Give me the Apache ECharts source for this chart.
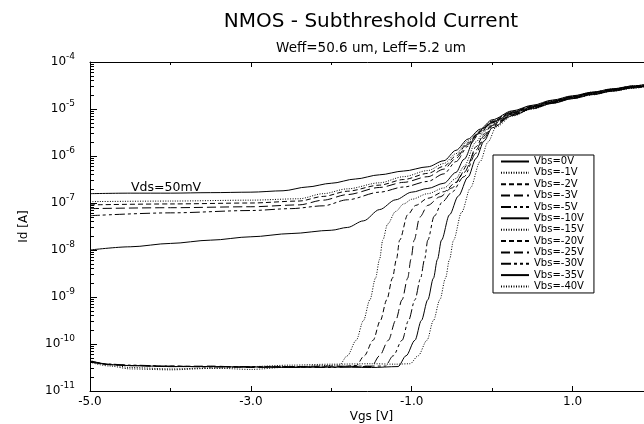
<!DOCTYPE html>
<html>
<head>
<meta charset="utf-8">
<script src="https://cdn.jsdelivr.net/npm/echarts@6/dist/echarts.min.js"></script>
<style>html,body{margin:0;padding:0;background:#fff}#c{width:644px;height:424px}</style>
</head>
<body>
<div id="c"></div>
<script>
// ---- data (Vgs [V], Id [A]) ----
const seriesNames = ['Vbs=0V','Vbs=-1V','Vbs=-2V','Vbs=-3V','Vbs=-5V','Vbs=-10V','Vbs=-15V','Vbs=-20V','Vbs=-25V','Vbs=-30V','Vbs=-35V','Vbs=-40V'];

const vbs0 = [[-5,1.58e-7],[-4.5,1.62e-7],[-4,1.62e-7],[-3.5,1.66e-7],[-3,1.70e-7],[-2.6,1.82e-7],[-2.3,2.19e-7],[-2,2.63e-7],[-1.7,3.24e-7],[-1.4,3.98e-7],[-1.1,4.79e-7],[-0.8,5.89e-7],[-0.6,7.94e-7],[-0.45,1.32e-6],[-0.3,2.29e-6],[-0.15,3.72e-6],[0,5.89e-6],[0.25,9.12e-6],[0.5,1.20e-5],[0.75,1.55e-5],[1,1.91e-5],[1.25,2.29e-5],[1.5,2.69e-5],[1.75,3.09e-5],[2,3.55e-5]];
const vbs1 = [[-5,1.07e-7],[-4,1.10e-7],[-3,1.15e-7],[-2.4,1.23e-7],[-2.1,1.58e-7],[-1.8,2.00e-7],[-1.4,2.69e-7],[-1.1,3.63e-7],[-0.8,4.90e-7],[-0.6,6.92e-7],[-0.45,1.12e-6],[-0.3,2.09e-6],[-0.15,3.47e-6],[0,5.62e-6],[0.25,8.91e-6],[0.5,1.17e-5],[0.75,1.51e-5],[1,1.86e-5],[1.25,2.29e-5],[1.5,2.69e-5],[1.75,3.09e-5],[2,3.55e-5]];
const vbs2 = [[-5,9.12e-8],[-4,9.55e-8],[-3,1.00e-7],[-2.4,1.10e-7],[-2.1,1.38e-7],[-1.8,1.78e-7],[-1.4,2.40e-7],[-1.1,3.16e-7],[-0.8,4.27e-7],[-0.6,6.03e-7],[-0.45,1.00e-6],[-0.3,1.91e-6],[-0.15,3.31e-6],[0,5.50e-6],[0.25,8.71e-6],[0.5,1.15e-5],[0.75,1.48e-5],[1,1.86e-5],[1.25,2.24e-5],[1.5,2.63e-5],[1.75,3.09e-5],[2,3.47e-5]];
const vbs3 = [[-5,7.59e-8],[-4,7.94e-8],[-3,8.32e-8],[-2.4,9.12e-8],[-2.1,1.15e-7],[-1.8,1.51e-7],[-1.4,2.14e-7],[-1.1,2.75e-7],[-0.8,3.63e-7],[-0.6,5.25e-7],[-0.45,8.91e-7],[-0.3,1.78e-6],[-0.15,3.16e-6],[0,5.37e-6],[0.25,8.51e-6],[0.5,1.15e-5],[0.75,1.48e-5],[1,1.82e-5],[1.25,2.24e-5],[1.5,2.63e-5],[1.75,3.02e-5],[2,3.47e-5]];
const vbs5 = [[-5,5.37e-8],[-4,6.17e-8],[-3,6.92e-8],[-2.5,7.59e-8],[-2.1,8.71e-8],[-1.8,1.17e-7],[-1.4,1.70e-7],[-1.1,2.19e-7],[-0.8,2.88e-7],[-0.6,4.17e-7],[-0.45,7.59e-7],[-0.3,1.62e-6],[-0.15,3.02e-6],[0,5.25e-6],[0.25,8.32e-6],[0.5,1.12e-5],[0.75,1.45e-5],[1,1.82e-5],[1.25,2.19e-5],[1.5,2.57e-5],[1.75,3.02e-5],[2,3.47e-5]];
const vbs10 = [[-5,1.00e-8],[-4.5,1.17e-8],[-4,1.38e-8],[-3.5,1.62e-8],[-3,1.91e-8],[-2.5,2.24e-8],[-2,2.63e-8],[-1.8,3.02e-8],[-1.6,4.17e-8],[-1.4,7.24e-8],[-1.2,1.17e-7],[-1,1.70e-7],[-0.8,2.04e-7],[-0.6,2.63e-7],[-0.45,4.47e-7],[-0.35,8.51e-7],[-0.2,2.82e-6],[-0.1,3.98e-6],[0,5.13e-6],[0.25,8.13e-6],[0.5,1.10e-5],[0.75,1.41e-5],[1,1.78e-5],[1.25,2.19e-5],[1.5,2.57e-5],[1.75,2.95e-5],[2,3.39e-5]];
const vbs15 = [[-5,4.47e-11],[-4.75,3.63e-11],[-4.5,3.16e-11],[-4,2.95e-11],[-3.5,3.09e-11],[-3,2.88e-11],[-2.5,3.24e-11],[-2.1,3.47e-11],[-1.9,3.55e-11],[-1.8,5.62e-11],[-1.69,1.20e-10],[-1.6,3.16e-10],[-1.52,8.71e-10],[-1.45,2.51e-9],[-1.4,6.31e-9],[-1.36,1.62e-8],[-1.3,3.55e-8],[-1.2,6.61e-8],[-1.1,9.55e-8],[-1,1.20e-7],[-0.8,1.58e-7],[-0.6,2.09e-7],[-0.45,3.31e-7],[-0.35,6.03e-7],[-0.2,2.00e-6],[-0.1,3.31e-6],[0,4.90e-6],[0.25,7.94e-6],[0.5,1.07e-5],[0.75,1.38e-5],[1,1.74e-5],[1.25,2.14e-5],[1.5,2.51e-5],[1.75,2.95e-5],[2,3.39e-5]];
const vbs20 = [[-5,4.27e-11],[-4.75,3.72e-11],[-4.5,3.47e-11],[-4,3.39e-11],[-3.5,3.31e-11],[-3,3.24e-11],[-2.5,3.31e-11],[-2,3.24e-11],[-1.69,3.47e-11],[-1.59,5.62e-11],[-1.48,1.20e-10],[-1.39,3.16e-10],[-1.31,8.71e-10],[-1.24,2.51e-9],[-1.19,6.31e-9],[-1.15,1.62e-8],[-1.05,5.62e-8],[-0.95,8.91e-8],[-0.8,1.26e-7],[-0.6,1.74e-7],[-0.45,2.75e-7],[-0.3,6.61e-7],[-0.2,1.58e-6],[-0.1,2.95e-6],[0,4.68e-6],[0.25,7.76e-6],[0.5,1.07e-5],[0.75,1.38e-5],[1,1.74e-5],[1.25,2.09e-5],[1.5,2.51e-5],[1.75,2.88e-5],[2,3.31e-5]];
const vbs25 = [[-5,4.17e-11],[-4.75,3.63e-11],[-4.5,3.47e-11],[-4,3.31e-11],[-3.5,3.39e-11],[-3,3.16e-11],[-2.5,3.31e-11],[-2,3.39e-11],[-1.5,3.31e-11],[-1.4,5.62e-11],[-1.29,1.20e-10],[-1.2,3.16e-10],[-1.12,8.71e-10],[-1.05,2.51e-9],[-1.01,6.31e-9],[-0.97,1.62e-8],[-0.9,5.01e-8],[-0.8,8.91e-8],[-0.65,1.35e-7],[-0.5,2.09e-7],[-0.35,4.47e-7],[-0.2,1.35e-6],[-0.1,2.69e-6],[0,4.47e-6],[0.25,7.59e-6],[0.5,1.05e-5],[0.75,1.35e-5],[1,1.70e-5],[1.25,2.09e-5],[1.5,2.45e-5],[1.75,2.88e-5],[2,3.31e-5]];
const vbs30 = [[-5,4.37e-11],[-4.75,3.72e-11],[-4.5,3.55e-11],[-4,3.39e-11],[-3.5,3.24e-11],[-3,3.31e-11],[-2.5,3.24e-11],[-2,3.16e-11],[-1.6,3.39e-11],[-1.33,3.39e-11],[-1.23,5.62e-11],[-1.12,1.20e-10],[-1.04,3.16e-10],[-0.96,8.71e-10],[-0.89,2.51e-9],[-0.84,6.31e-9],[-0.8,1.62e-8],[-0.72,5.25e-8],[-0.62,1.05e-7],[-0.5,1.70e-7],[-0.35,3.63e-7],[-0.2,1.15e-6],[-0.1,2.40e-6],[0,4.27e-6],[0.25,7.41e-6],[0.5,1.02e-5],[0.75,1.35e-5],[1,1.70e-5],[1.25,2.04e-5],[1.5,2.45e-5],[1.75,2.82e-5],[2,3.24e-5]];
const vbs35 = [[-5,4.27e-11],[-4.75,3.63e-11],[-4.5,3.47e-11],[-4,3.31e-11],[-3.5,3.31e-11],[-3,3.24e-11],[-2.5,3.16e-11],[-2,3.24e-11],[-1.5,3.16e-11],[-1.17,3.31e-11],[-1.07,5.62e-11],[-0.96,1.20e-10],[-0.88,3.16e-10],[-0.8,8.71e-10],[-0.73,2.51e-9],[-0.68,6.31e-9],[-0.63,1.62e-8],[-0.53,5.62e-8],[-0.42,1.41e-7],[-0.3,3.55e-7],[-0.2,8.91e-7],[-0.1,2.09e-6],[0,3.98e-6],[0.25,7.24e-6],[0.5,1.02e-5],[0.75,1.32e-5],[1,1.66e-5],[1.25,2.04e-5],[1.5,2.40e-5],[1.75,2.82e-5],[2,3.24e-5]];
const vbs40 = [[-5,4.07e-11],[-4.75,3.39e-11],[-4.5,2.95e-11],[-4,2.82e-11],[-3.5,3.02e-11],[-3,3.31e-11],[-2.5,3.55e-11],[-2,3.72e-11],[-1.5,3.80e-11],[-1.2,3.72e-11],[-1.02,3.80e-11],[-0.92,5.62e-11],[-0.81,1.20e-10],[-0.73,3.16e-10],[-0.65,8.71e-10],[-0.58,2.51e-9],[-0.53,6.31e-9],[-0.48,1.62e-8],[-0.38,6.31e-8],[-0.27,2.09e-7],[-0.15,7.59e-7],[-0.05,2.00e-6],[0.05,4.17e-6],[0.25,7.08e-6],[0.5,1.00e-5],[0.75,1.32e-5],[1,1.66e-5],[1.25,2.00e-5],[1.5,2.40e-5],[1.75,2.75e-5],[2,3.24e-5]];

const xLabelValues = [-5, -3, -1, 1];
const xMinorTickValues = [-4, -2, 0, 2];
const yDecades = [1e-11, 1e-10, 1e-9, 1e-8, 1e-7, 1e-6, 1e-5, 1e-4];
const yMinorValues = [];
for (const d of [1e-11,1e-10,1e-9,1e-8,1e-7,1e-6,1e-5]) for (const m of [2,3,4,5,6,7,8,9]) yMinorValues.push(+(m*d).toPrecision(3));

const allData = [vbs0,vbs1,vbs2,vbs3,vbs5,vbs10,vbs15,vbs20,vbs25,vbs30,vbs35,vbs40];
const dashStyles = ['solid',[1,1.5],[5,3],[9,4],[10,3,3,3,3,3],'solid',[1,1.5],[5,3],[9,4],[10,3,3,3,3,3],'solid',[1,1.5]];

const FONT = 'DejaVu Sans';
const chart = echarts.init(document.getElementById('c'), null, {renderer: 'canvas'});

const baseX = {type:'value', min:-5, max:2, interval:1, gridIndex:0, splitLine:{show:false}};
const baseY = {type:'log', logBase:10, min:1e-11, max:1e-4, gridIndex:0, splitLine:{show:false}};

chart.setOption({
  animation: false,
  backgroundColor: '#fff',
  textStyle: {fontFamily: FONT, color: '#000'},
  grid: {left: 90, top: 62, width: 563, height: 329, outerBoundsMode: 'none'},
  graphic: [
    {type:'text', x:371, y:21.5, style:{text:'NMOS - Subthreshold Current', font:'20px "DejaVu Sans"', fill:'#000', textAlign:'center', textVerticalAlign:'middle'}},
    {type:'text', x:371, y:48, style:{text:'Weff=50.6 um, Leff=5.2 um', font:'13.5px "DejaVu Sans"', fill:'#000', textAlign:'center', textVerticalAlign:'middle'}},
    {type:'text', x:131, y:188, style:{text:'Vds=50mV', font:'12.5px "DejaVu Sans"', fill:'#000', textAlign:'left', textVerticalAlign:'middle'}}
  ],
  legend: {
    data: seriesNames, orient:'vertical', left:493, top:155,
    backgroundColor:'#fff', borderColor:'#000', borderWidth:1, borderRadius:0,
    padding:[1,10,1,7], itemGap:0.36, itemWidth:28, itemHeight:11,
    itemStyle:{opacity:0},
    textStyle:{fontFamily:FONT, fontSize:10, lineHeight:11, color:'#000'},
    selectedMode:false
  },
  xAxis: [
    Object.assign({}, baseX, {position:'bottom',
      axisLine:{show:true, onZero:false, lineStyle:{color:'#000', width:1}},
      axisTick:{show:true, inside:true, length:5, customValues:xLabelValues, lineStyle:{color:'#000'}},
      axisLabel:{show:true, customValues:xLabelValues, formatter:(v)=>Number(v).toFixed(1), color:'#000', fontSize:12, fontFamily:FONT, margin:5},
      name:'Vgs [V]', nameLocation:'middle', nameGap:20, nameMoveOverlap:false, nameTextStyle:{fontSize:12, fontFamily:FONT, color:'#000'}}),
    Object.assign({}, baseX, {position:'bottom',
      axisLine:{show:false, onZero:false}, axisLabel:{show:false},
      axisTick:{show:true, inside:true, length:3, customValues:xMinorTickValues, lineStyle:{color:'#000'}}}),
    Object.assign({}, baseX, {position:'top',
      axisLine:{show:true, onZero:false, lineStyle:{color:'#000', width:1}}, axisLabel:{show:false},
      axisTick:{show:true, inside:true, length:5, customValues:xLabelValues, lineStyle:{color:'#000'}}}),
    Object.assign({}, baseX, {position:'top',
      axisLine:{show:false, onZero:false}, axisLabel:{show:false},
      axisTick:{show:true, inside:true, length:3, customValues:xMinorTickValues, lineStyle:{color:'#000'}}})
  ],
  yAxis: [
    Object.assign({}, baseY, {position:'left',
      axisLine:{show:true, onZero:false, lineStyle:{color:'#000', width:1}},
      axisTick:{show:true, inside:true, length:7, customValues:yDecades, lineStyle:{color:'#000'}},
      axisLabel:{show:true, customValues:yDecades, margin:15, color:'#000',
        formatter:(v)=>'{b|10}{e|' + Math.round(Math.log10(v)) + '}',
        rich:{b:{fontSize:12, fontFamily:FONT, color:'#000', lineHeight:20}, e:{fontSize:9, fontFamily:FONT, color:'#000', verticalAlign:'top', lineHeight:10}}},
      name:'Id [A]', nameLocation:'middle', nameGap:60, nameMoveOverlap:false, nameRotate:90, nameTextStyle:{fontSize:12, fontFamily:FONT, color:'#000'}}),
    Object.assign({}, baseY, {position:'left',
      axisLine:{show:false, onZero:false}, axisLabel:{show:false},
      axisTick:{show:true, inside:true, length:4, customValues:yMinorValues, lineStyle:{color:'#000'}}})
  ],
  series: seriesNames.map((n, i) => ({
    name: n, type:'line', data: allData[i], xAxisIndex:0, yAxisIndex:0,
    symbol:'none', smooth:0.3, smoothMonotone:'x',
    lineStyle:{color:'#000', width:1, type: dashStyles[i]},
    itemStyle:{color:'#000'}, z: 2
  }))
});
</script>
</body>
</html>
